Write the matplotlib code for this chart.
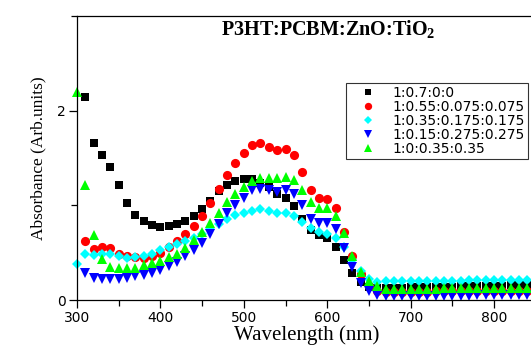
import numpy as np
import matplotlib
matplotlib.use("Agg")
import matplotlib.pyplot as plt
from matplotlib.ticker import MultipleLocator

plt.rcParams["mathtext.fontset"] = "custom"
plt.rcParams["mathtext.rm"] = "Liberation Serif"
plt.rcParams["mathtext.bf"] = "Liberation Serif:bold"

# wavelength grid of the measured points (nm)
wavelength = np.arange(300, 851, 10)

nan = np.nan
abs_0p7 = [nan, 2.14, 1.66, 1.53, 1.41, 1.21, 1.02, 0.90, 0.83, 0.79,
           0.77, 0.78, 0.80, 0.83, 0.89, 0.96, 1.05, 1.15, 1.22, 1.26,
           1.28, 1.28, 1.24, 1.19, 1.12, 1.08, 0.99, 0.86, 0.74, 0.69,
           0.65, 0.56, 0.42, 0.28, 0.19, 0.14, 0.13,
           0.13, 0.13, 0.13, 0.14, 0.14, 0.14, 0.14, 0.14, 0.14, 0.15,
           0.15, 0.15, 0.15, 0.15, 0.15, 0.16, 0.16, 0.16, 0.16]
abs_0p55 = [nan, 0.62, 0.54, 0.56, 0.55, 0.49, 0.47, 0.45, 0.445, 0.46,
            0.50, 0.56, 0.62, 0.70, 0.78, 0.89, 1.02, 1.17, 1.32, 1.45,
            1.55, 1.64, 1.66, 1.62, 1.58, 1.59, 1.53, 1.35, 1.16, 1.08,
            1.07, 0.97, 0.72, 0.46, 0.27, 0.15, 0.10,
            0.08, 0.08, 0.08, 0.08, 0.08, 0.08, 0.09, 0.09, 0.09, 0.09,
            0.09, 0.09, 0.10, 0.10, 0.10, 0.10, 0.10, 0.10, 0.10]
abs_0p35 = [0.38, 0.49, 0.48, 0.49, 0.485, 0.46, 0.44, 0.455, 0.465, 0.49,
            0.53, 0.56, 0.59, 0.62, 0.66, 0.70, 0.75, 0.80, 0.86, 0.90,
            0.92, 0.945, 0.96, 0.945, 0.92, 0.92, 0.89, 0.82, 0.76, 0.72,
            0.695, 0.66, 0.56, 0.42, 0.31, 0.22, 0.19,
            0.20, 0.20, 0.20, 0.20, 0.20, 0.20, 0.20, 0.20, 0.20, 0.20,
            0.21, 0.21, 0.21, 0.21, 0.21, 0.21, 0.21, 0.21, 0.21]
abs_0p15 = [nan, 0.29, 0.23, 0.22, 0.22, 0.22, 0.23, 0.25, 0.26, 0.29,
            0.32, 0.36, 0.405, 0.46, 0.525, 0.60, 0.70, 0.80, 0.92, 1.00,
            1.08, 1.16, 1.17, 1.165, 1.14, 1.16, 1.12, 1.00, 0.86, 0.81,
            0.81, 0.75, 0.55, 0.35, 0.18, 0.10, 0.05,
            0.04, 0.04, 0.04, 0.04, 0.04, 0.04, 0.04, 0.04, 0.04, 0.04,
            0.04, 0.05, 0.05, 0.05, 0.05, 0.05, 0.05, 0.05, 0.05]
abs_0p0 = [2.20, 1.21, 0.69, 0.43, 0.35, 0.335, 0.335, 0.34, 0.37, 0.39,
           0.415, 0.45, 0.49, 0.55, 0.63, 0.72, 0.81, 0.92, 1.03, 1.12,
           1.19, 1.26, 1.29, 1.285, 1.285, 1.30, 1.27, 1.16, 1.03, 0.97,
           0.97, 0.89, 0.71, 0.47, 0.30, 0.20, 0.15,
           0.12, 0.12, 0.12, 0.12, 0.12, 0.12, 0.12, 0.13, 0.13, 0.13,
           0.13, 0.13, 0.13, 0.13, 0.13, 0.13, 0.13, 0.13, 0.13]

series = [
    ("1:0.7:0:0", abs_0p7, "s", "black", 5.6),
    ("1:0.55:0.075:0.075", abs_0p55, "o", "red", 6.6),
    ("1:0.35:0.175:0.175", abs_0p35, "D", "cyan", 5.6),
    ("1:0.15:0.275:0.275", abs_0p15, "v", "blue", 7.0),
    ("1:0:0.35:0.35", abs_0p0, "^", "lime", 7.0),
]

fig = plt.figure(figsize=(5.31, 3.45), dpi=100)
ax = fig.add_axes([77 / 531, 45 / 345, 458.7 / 531, 284 / 345])

for label, vals, marker, color, ms in series:
    ax.plot(wavelength, vals, linestyle="none", marker=marker, ms=ms,
            color=color, markeredgewidth=0, label=label, clip_on=False)

ax.set_xlim(300, 850)
ax.set_ylim(0, 3)
ax.xaxis.set_major_locator(MultipleLocator(100))
ax.xaxis.set_minor_locator(MultipleLocator(50))
ax.yaxis.set_major_locator(MultipleLocator(2))
ax.yaxis.set_minor_locator(MultipleLocator(1))
ax.tick_params(which="major", direction="out", length=6, width=0.9,
               labelsize=10, pad=2)
ax.tick_params(which="minor", direction="out", length=4, width=0.9)
for lab in ax.get_xticklabels() + ax.get_yticklabels():
    lab.set_family("DejaVu Sans")
for sp in ax.spines.values():
    sp.set_linewidth(0.9)
ax.spines["right"].set_visible(False)

ax.set_xlabel("Wavelength (nm)", family="Liberation Serif", fontsize=15,
              labelpad=0)
ax.set_ylabel("Absorbance (Arb.units)", family="Liberation Serif",
              fontsize=12.5, labelpad=8)

ax.text(0.547, 0.99, r"P3HT:PCBM:ZnO:TiO$_\mathbf{2}$", transform=ax.transAxes,
        ha="center", va="top", family="Liberation Serif",
        fontweight="bold", fontsize=14.5)

leg = ax.legend(loc="upper left", bbox_to_anchor=(0.5865, 0.764),
                borderaxespad=0, frameon=True, fancybox=False,
                prop={"family": "DejaVu Sans", "size": 10},
                labelspacing=0.0, handlelength=2.7, handletextpad=0.45,
                borderpad=0.2, markerscale=0.8)
leg.get_frame().set_edgecolor("black")
leg.get_frame().set_linewidth(0.8)

fig.savefig("out.png", dpi=100)
